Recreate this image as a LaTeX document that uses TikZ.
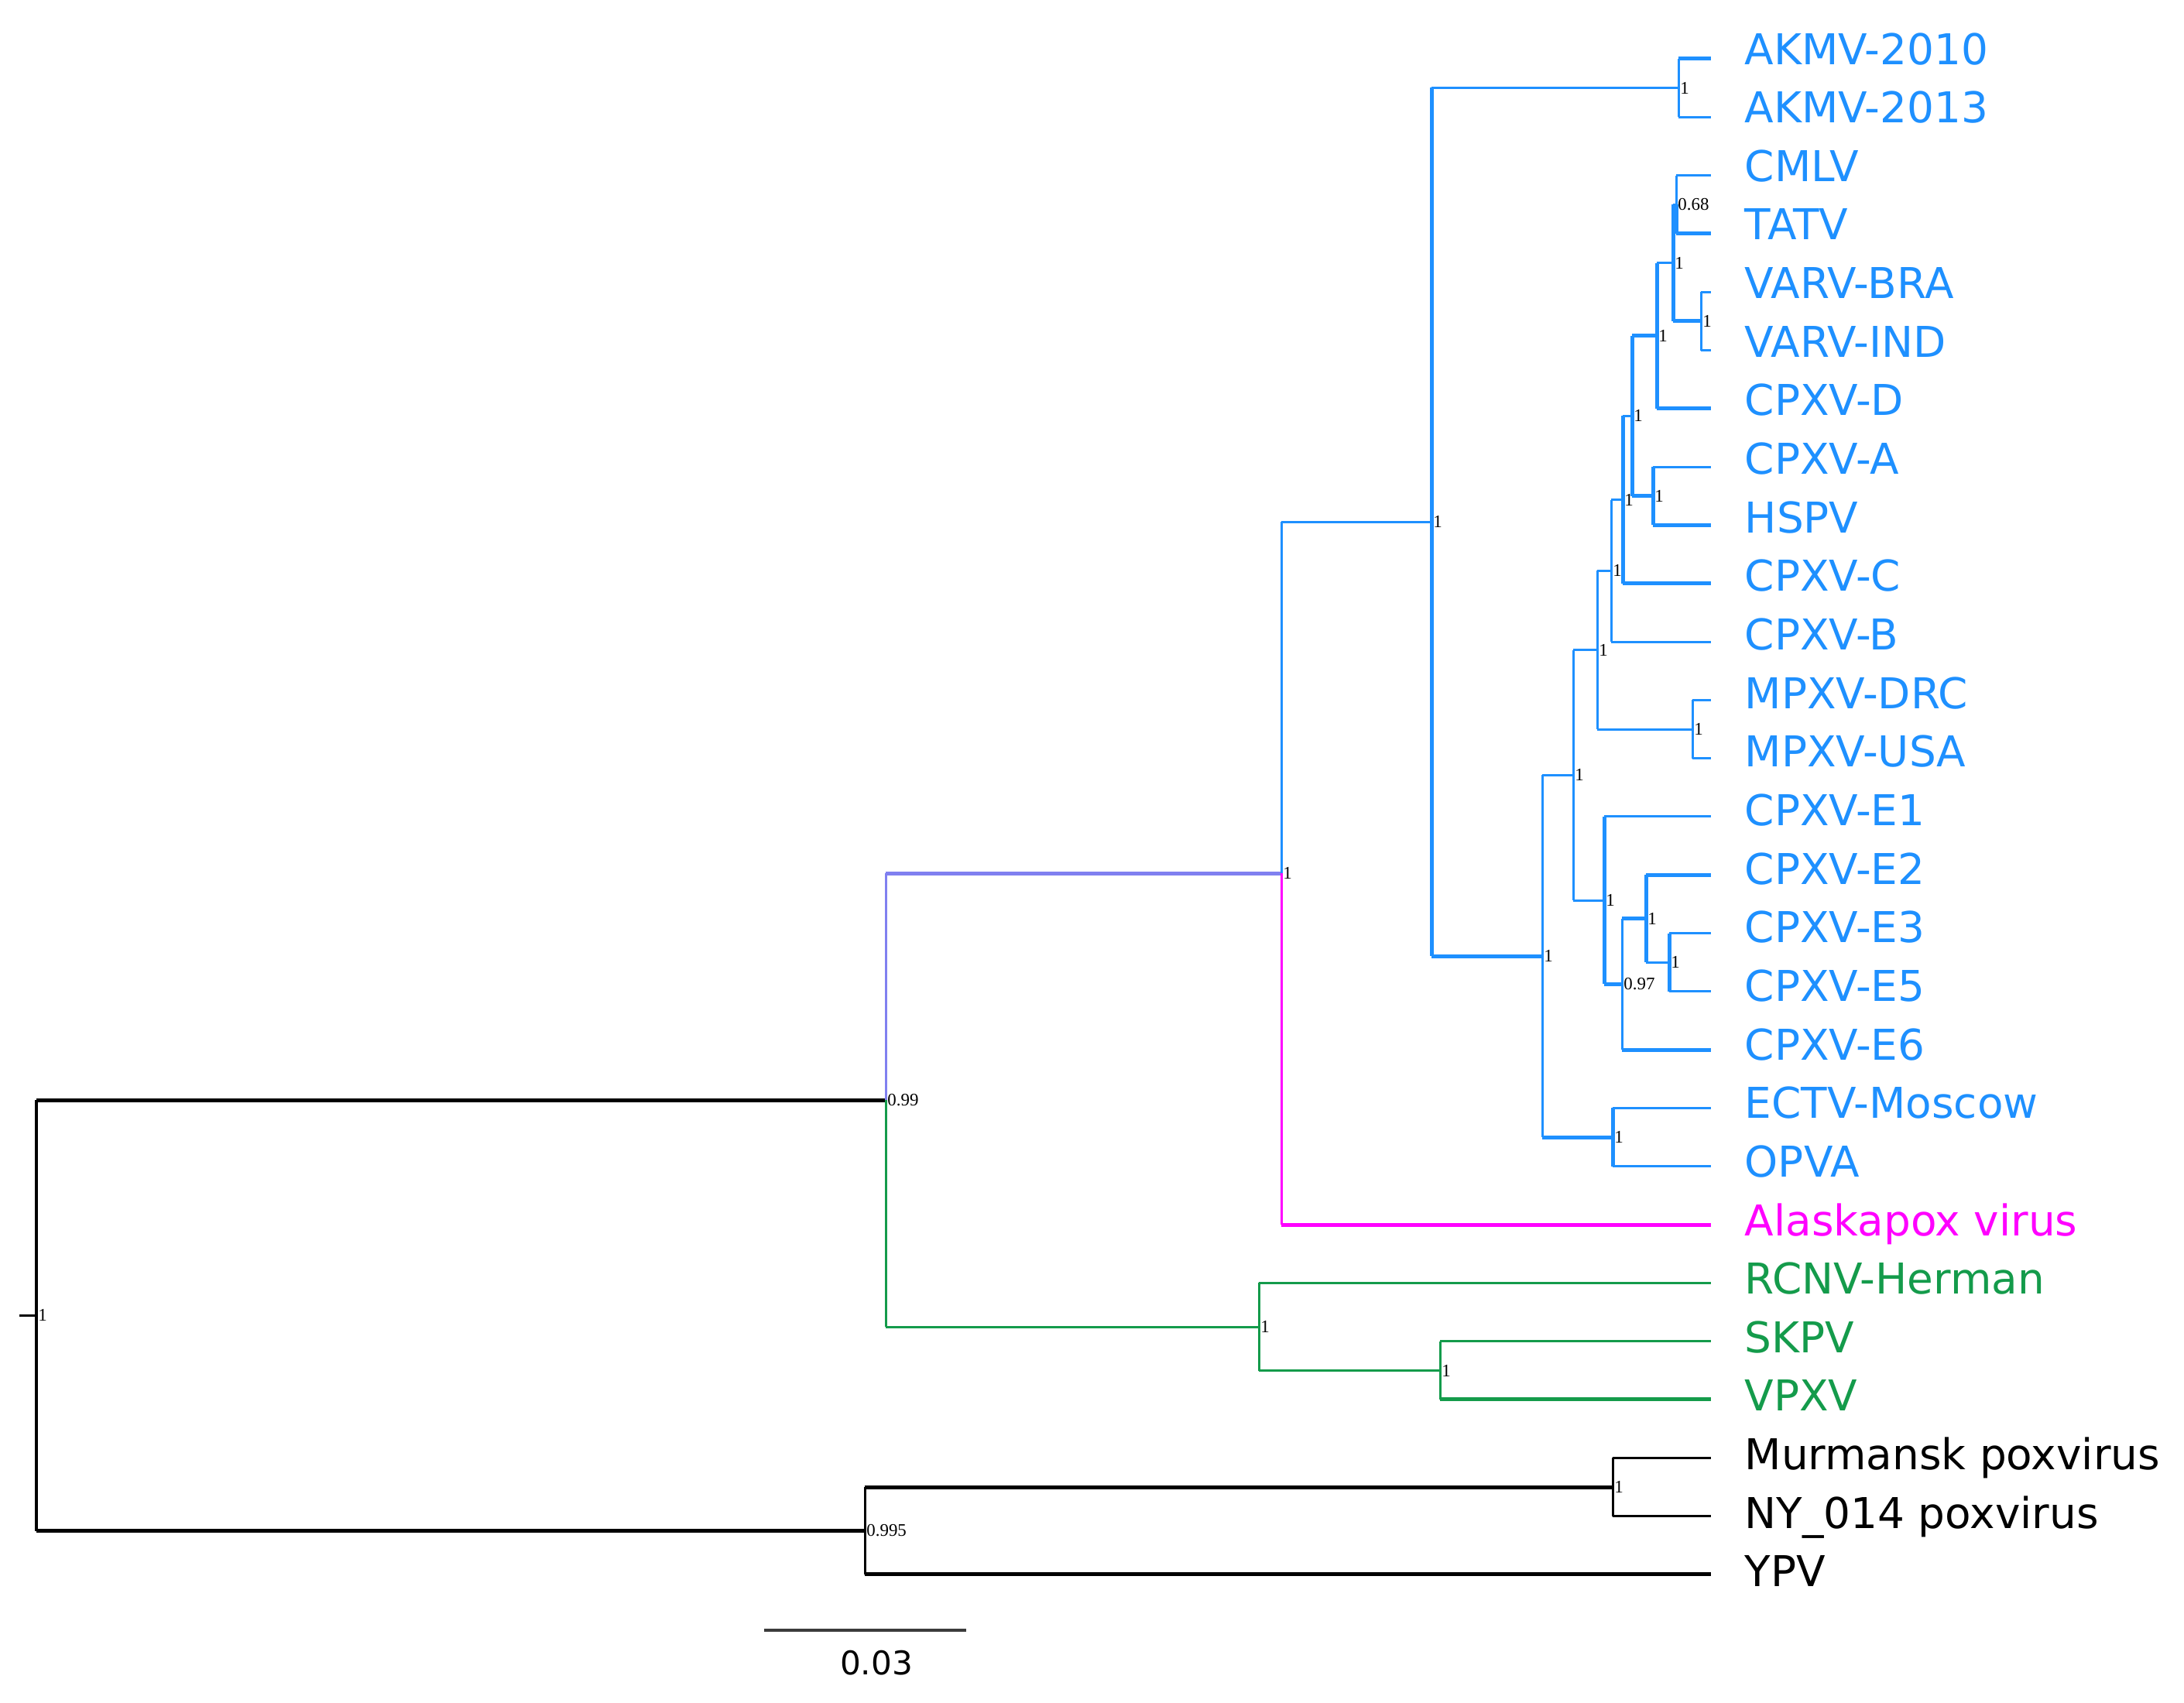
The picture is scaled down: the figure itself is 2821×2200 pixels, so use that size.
\documentclass[tikz,border=0pt]{standalone}
\usepackage{fontspec}
\setmainfont{DejaVu Sans}
\newfontfamily\suppfont{Liberation Serif}
\definecolor{cblue}{RGB}{30,144,255}
\definecolor{cmag}{RGB}{255,0,255}
\definecolor{cgreen}{RGB}{20,155,75}
\definecolor{cpurp}{RGB}{128,128,240}
\definecolor{cbar}{RGB}{60,60,60}
\tikzset{
  leaf/.style={anchor=west, inner xsep=0.43cm, inner ysep=0pt, text height=0.32cm, text depth=0.18cm, font=\fontsize{15.6}{18}\selectfont},
  supp/.style={anchor=west, inner sep=0.5pt, font=\suppfont\fontsize{6.5}{7}\selectfont},
  tn/.style={line width=0.03cm, line cap=square},
  tk/.style={line width=0.05cm, line cap=square},
}
% internal node: name, x, y, support value
\newcommand{\nd}[4]{\coordinate (#1) at (#2,#3); \node[supp] (#1-s) at (#1) {#4};}
% branch: vertical style, horizontal style, parent, child
\newcommand{\br}[4]{\draw[#1] (#3) -- (#3 |- #4); \draw[#2] (#3 |- #4) -- (#4);}
\begin{document}
\begin{tikzpicture}[x=0.01cm, y=-0.01cm]
\useasboundingbox[fill=white] (0,0) rectangle (2821,2200);
% tips and their names
\foreach \n/\t/\c [count=\i from 0] in {ak10/AKMV-2010/cblue, ak13/AKMV-2013/cblue, cmlv/CMLV/cblue, tatv/TATV/cblue,
  vbra/VARV-BRA/cblue, vind/VARV-IND/cblue, cpd/CPXV-D/cblue, cpa/CPXV-A/cblue, hspv/HSPV/cblue, cpc/CPXV-C/cblue,
  cpb/CPXV-B/cblue, mdrc/MPXV-DRC/cblue, musa/MPXV-USA/cblue, ce1/CPXV-E1/cblue, ce2/CPXV-E2/cblue, ce3/CPXV-E3/cblue,
  ce5/CPXV-E5/cblue, ce6/CPXV-E6/cblue, ectv/ECTV-Moscow/cblue, opva/OPVA/cblue, alpv/Alaskapox virus/cmag,
  rcnv/RCNV-Herman/cgreen, skpv/SKPV/cgreen, vpxv/VPXV/cgreen, murm/Murmansk poxvirus/black,
  ny/NY\_014 poxvirus/black, ypv/YPV/black}
{
  \coordinate (\n) at (2210, {76+75.3*\i});
  \node[leaf, text=\c] (\n-l) at (2210, {76+75.65*\i}) {\t};
}

% internal nodes
\nd{root}{47}{1699}{1}
\nd{A}{1144}{1421}{0.99}
\nd{X}{1117}{1977.5}{0.995}
\nd{Y}{2083}{1921}{1}
\nd{B}{1655}{1128}{1}
\nd{V}{1626}{1714}{1}
\nd{W}{1860}{1770.5}{1}
\nd{C}{1849}{674}{1}
\nd{Ak}{2168}{113.5}{1}
\nd{D}{1992}{1235}{1}
\nd{U}{2083}{1469}{1}
\nd{E}{2032}{1001}{1}
\nd{F}{2063}{839.5}{1}
\nd{K}{2081}{737}{1}
\nd{L}{2096}{645.5}{1}
\nd{T}{2108}{537}{1}
\nd{P}{2140}{433.75}{1}
\nd{Q}{2161}{339.5}{1}
\nd{R}{2165}{264.5}{0.68}
\nd{S}{2197}{414.5}{1}
\nd{M}{2135}{640.5}{1}
\nd{Mp}{2186}{942}{1}
\nd{G}{2072}{1163}{1}
\nd{H}{2095}{1271}{0.97}
\nd{I}{2126}{1186.5}{1}
\nd{J}{2156}{1243}{1}
\coordinate (stub) at (25,1699);

% outgroup and root
\draw[tn] (stub) -- (root);
\br{tn}{tk}{root}{A}
\br{tn}{tk}{root}{X}
\br{tn}{tk}{X}{Y}
\br{tn}{tk}{X}{ypv}
\br{tn}{tn}{Y}{murm}
\br{tn}{tn}{Y}{ny}

% green clade
\br{tn,cgreen}{tn,cgreen}{A}{V}
\br{tn,cgreen}{tn,cgreen}{V}{rcnv}
\br{tn,cgreen}{tn,cgreen}{V}{W}
\br{tn,cgreen}{tn,cgreen}{W}{skpv}
\br{tn,cgreen}{tk,cgreen}{W}{vpxv}

% alaskapox and orthopox
\br{tn,cpurp}{tk,cpurp}{A}{B}
\br{tn,cmag}{tk,cmag}{B}{alpv}
\br{tn,cblue}{tn,cblue}{B}{C}
\br{tk,cblue}{tn,cblue}{C}{Ak}
\br{tk,cblue}{tk,cblue}{C}{D}
\br{tn,cblue}{tk,cblue}{Ak}{ak10}
\br{tn,cblue}{tn,cblue}{Ak}{ak13}
\br{tn,cblue}{tn,cblue}{D}{E}
\br{tn,cblue}{tk,cblue}{D}{U}
\br{tk,cblue}{tn,cblue}{U}{ectv}
\br{tk,cblue}{tn,cblue}{U}{opva}
\br{tn,cblue}{tn,cblue}{E}{F}
\br{tn,cblue}{tn,cblue}{E}{G}
\br{tn,cblue}{tn,cblue}{F}{K}
\br{tn,cblue}{tn,cblue}{F}{Mp}
\br{tn,cblue}{tn,cblue}{Mp}{mdrc}
\br{tn,cblue}{tn,cblue}{Mp}{musa}
\br{tn,cblue}{tn,cblue}{K}{L}
\br{tn,cblue}{tn,cblue}{K}{cpb}
\br{tk,cblue}{tn,cblue}{L}{T}
\br{tk,cblue}{tk,cblue}{L}{cpc}
\br{tk,cblue}{tk,cblue}{T}{P}
\br{tk,cblue}{tk,cblue}{T}{M}
\br{tk,cblue}{tn,cblue}{M}{cpa}
\br{tk,cblue}{tk,cblue}{M}{hspv}
\br{tk,cblue}{tn,cblue}{P}{Q}
\br{tk,cblue}{tk,cblue}{P}{cpd}
\br{tk,cblue}{tn,cblue}{Q}{R}
\br{tk,cblue}{tk,cblue}{Q}{S}
\br{tn,cblue}{tn,cblue}{R}{cmlv}
\br{tk,cblue}{tk,cblue}{R}{tatv}
\br{tn,cblue}{tn,cblue}{S}{vbra}
\br{tn,cblue}{tn,cblue}{S}{vind}
\br{tk,cblue}{tn,cblue}{G}{ce1}
\br{tk,cblue}{tk,cblue}{G}{H}
\br{tn,cblue}{tk,cblue}{H}{I}
\br{tn,cblue}{tk,cblue}{H}{ce6}
\br{tk,cblue}{tk,cblue}{I}{ce2}
\br{tk,cblue}{tn,cblue}{I}{J}
\br{tk,cblue}{tn,cblue}{J}{ce3}
\br{tk,cblue}{tn,cblue}{J}{ce5}

% scale bar
\coordinate (sb1) at (987,2106);
\coordinate (sb2) at (1248,2106);
\draw[cbar, line width=0.04cm] (sb1) -- (sb2);
\node[font=\fontsize{12}{14}\selectfont] (sbl) at (1132,2148) {0.03};
\end{tikzpicture}
\end{document}
